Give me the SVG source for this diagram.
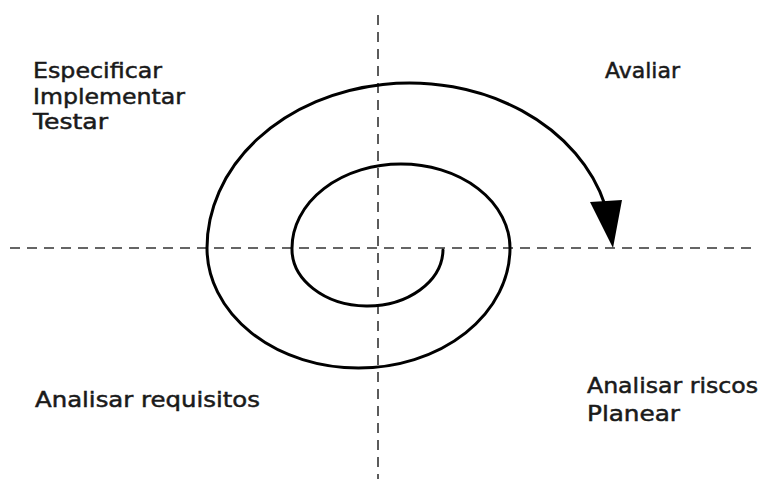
<svg xmlns="http://www.w3.org/2000/svg" width="765" height="479" viewBox="0 0 765 479">
<style>
.axis{stroke:#333;stroke-width:1.6;stroke-dasharray:10 7;fill:none}
.spiral{stroke:#000;stroke-width:3;fill:none;stroke-linecap:round}
.lbl{font-family:"DejaVu Sans",Verdana,sans-serif;font-size:21px;fill:#1a1a1a;stroke:#1a1a1a;stroke-width:0.5}
</style>
<rect width="765" height="479" fill="#fff"/>
<g id="connectors">
<line class="axis" x1="378" y1="15" x2="378" y2="479"/>
<line class="axis" x1="10" y1="248" x2="752" y2="248"/>
<path class="spiral" d="M 443 250 A 75.5 57 0 0 1 292 248 A 109 84 0 0 1 510 248 A 151.5 120 0 0 1 207 248 A 202.5 165 0 0 1 605 205"/>
<polygon points="590,202 622,200 613,248" fill="#000"/>
</g>
<g id="label-top-left">
<text class="lbl" x="33" y="78" textLength="129" lengthAdjust="spacingAndGlyphs">Especificar</text>
<text class="lbl" x="33" y="104" textLength="152" lengthAdjust="spacingAndGlyphs">Implementar</text>
<text class="lbl" x="33" y="129" textLength="75" lengthAdjust="spacingAndGlyphs">Testar</text>
</g>
<g id="label-top-right">
<text class="lbl" x="605" y="78" textLength="75" lengthAdjust="spacingAndGlyphs">Avaliar</text>
</g>
<g id="label-bottom-left">
<text class="lbl" x="35" y="407" textLength="225" lengthAdjust="spacingAndGlyphs">Analisar requisitos</text>
</g>
<g id="label-bottom-right">
<text class="lbl" x="587" y="393" textLength="171" lengthAdjust="spacingAndGlyphs">Analisar riscos</text>
<text class="lbl" x="587" y="421" textLength="93" lengthAdjust="spacingAndGlyphs">Planear</text>
</g>
</svg>
